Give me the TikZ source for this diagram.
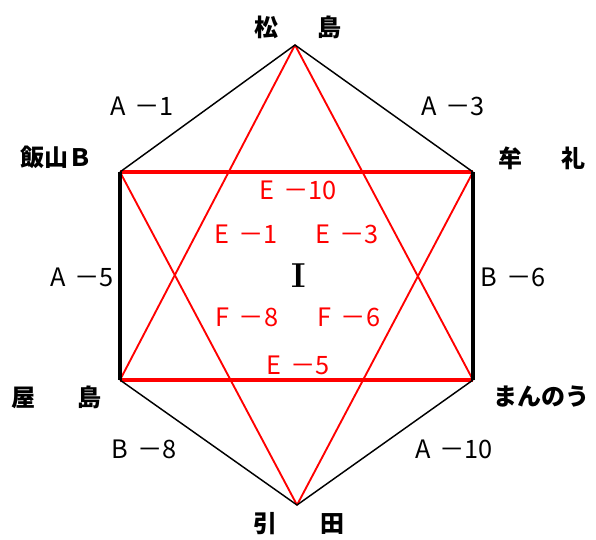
\documentclass[tikz,border=0pt]{standalone}
\usepackage{fontspec}
\newfontfamily\jp{Noto Sans CJK JP}
\newcommand\dsh{\hspace{0.35em}－}
\begin{document}
\begin{tikzpicture}[x=0.75pt, y=-0.75pt,
    place/.style={font=\jp\bfseries\fontsize{18}{18}\selectfont, inner sep=0pt},
    route/.style={font=\jp\fontsize{19}{19}\selectfont, inner sep=0pt},
    inroute/.style={route, text=red},
    edge/.style={line width=1.1pt},
    side/.style={line width=2.3pt},
    redbar/.style={red, line width=2.3pt},
    redline/.style={red, line width=1.4pt}]
    \useasboundingbox (0,0) rectangle (596,539);

    % Draw hexagon corners
    \coordinate (matsu) at (295,45);
    \coordinate (iiyama) at (120,172);
    \coordinate (mure) at (473,172);
    \coordinate (yashima) at (120,380);
    \coordinate (manno) at (473,380);
    \coordinate (hiketa) at (297,505);

    % Draw red star
    \draw[redbar] (iiyama) -- (mure);
    \draw[redbar] (yashima) -- (manno);
    \draw[redline] (matsu) -- (yashima);
    \draw[redline] (matsu) -- (manno);
    \draw[redline] (hiketa) -- (iiyama);
    \draw[redline] (hiketa) -- (mure);

    % Draw hexagon edges
    \draw[edge] (iiyama) -- (matsu) -- (mure);
    \draw[edge] (yashima) -- (hiketa) -- (manno);
    \draw[side] (iiyama) -- (yashima);
    \draw[side] (mure) -- (manno);

    % Place names
    \node[place] (nmatsu) at (298,27) {松\hspace{1.65em}島};
    \node[place] (niiyama) at (56,157) {飯山Ｂ};
    \node[place] (nmure) at (542,158) {牟\hspace{1.65em}礼};
    \node[place] (nyashima) at (57,397) {屋\hspace{1.75em}島};
    \node[place] (nmanno) at (541,397) {まんのう};
    \node[place] (nhiketa) at (299,524) {引\hspace{1.8em}田};

    % Outer routes
    \node[route] (ra1) at (142,106) {A\dsh 1};
    \node[route] (ra3) at (453,106) {A\dsh 3};
    \node[route] (ra5) at (82,277) {A\dsh 5};
    \node[route] (rb6) at (513,277) {B\dsh 6};
    \node[route] (rb8) at (144,449) {B\dsh 8};
    \node[route] (ra10) at (454,449) {A\dsh 10};

    % Inner routes
    \node[inroute] (re10) at (298,190) {E\dsh 10};
    \node[inroute] (re1) at (246,234) {E\dsh 1};
    \node[inroute] (re3) at (347,234) {E\dsh 3};
    \node[inroute] (rf8) at (247,317) {F\dsh 8};
    \node[inroute] (rf6) at (349,317) {F\dsh 6};
    \node[inroute] (re5) at (298,365) {E\dsh 5};
    \node[font=\bfseries\fontsize{26}{26}\selectfont, inner sep=0pt] (zone) at (299,276) {I};
\end{tikzpicture}
\end{document}
